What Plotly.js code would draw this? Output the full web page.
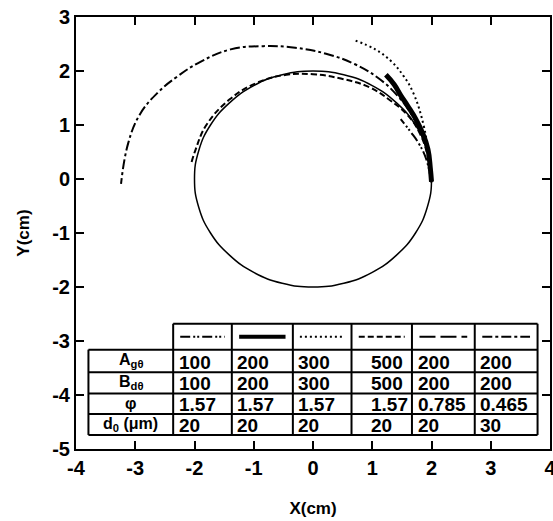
<!DOCTYPE html>
<html><head><meta charset="utf-8">
<script src="https://cdn.plot.ly/plotly-3.0.1.min.js"></script>
<style>html,body{margin:0;padding:0;background:#fff;}#chart{width:553px;height:521px;}</style>
</head><body><div id="chart"></div>
<script>
// ---- data ----
const circleX = [2,1.93,1.73,1.41,1.0,0.52,0,-0.52,-1.0,-1.41,-1.73,-1.93,-2,-1.93,-1.73,-1.41,-1.0,-0.52,0,0.52,1.0,1.41,1.73,1.93,2];
const circleY = [0,0.52,1.0,1.41,1.73,1.93,2,1.93,1.73,1.41,1.0,0.52,0,-0.52,-1.0,-1.41,-1.73,-1.93,-2,-1.93,-1.73,-1.41,-1.0,-0.52,0];

// column 1 : dash-dot-dot (A=100, B=100)
const c1X = [2.0,1.91,1.79,1.65,1.48];
const c1Y = [-0.06,0.37,0.65,0.87,1.11];
// column 2 : thick solid (A=200, B=200)
const c2X = [2.0,1.98,1.94,1.85,1.74,1.6,1.48,1.37,1.23];
const c2Y = [-0.05,0.2,0.55,0.85,1.1,1.35,1.55,1.75,1.93];
// column 3 : dotted (A=300, B=300)
const c3X = [2.0,1.96,1.87,1.69,1.52,1.32,1.05,0.72];
const c3Y = [-0.06,0.37,0.98,1.60,1.92,2.18,2.40,2.56];
// column 4 : dashed (A=500, B=500)
const c4X = [1.98,1.93,1.80,1.60,1.31,0.95,0.47,0.0,-0.45,-0.95,-1.40,-1.80,-1.98,-2.05];
const c4Y = [0.0,0.45,0.85,1.18,1.45,1.70,1.86,1.94,1.93,1.78,1.48,1.0,0.55,0.31];
// column 6 : dash-dot (phi=0.465, d0=30)
const c6X = [2.0,1.95,1.84,1.66,1.42,1.10,0.70,0.22,-0.30,-0.84,-1.39,-1.90,-2.30,-2.62,-2.92,-3.12,-3.24];
const c6Y = [-0.06,0.40,0.80,1.20,1.55,1.87,2.13,2.32,2.43,2.46,2.40,2.17,1.89,1.60,1.20,0.66,-0.09];

// table contents
const rowLabels = ['A<sub>gθ</sub>','B<sub>dθ</sub>','φ','d<sub>0</sub> (μm)'];
const rowAg = ['100','200','300','500','200','200'];
const rowBd = ['100','200','300','500','200','200'];
const rowPhi = ['1.57','1.57','1.57','1.57','0.785','0.465'];
const rowD0 = ['20','20','20','20','20','30'];
const tickVals = [-4,-3,-2,-1,0,1,2,3,4];
const yTickVals = [-5,-4,-3,-2,-1,0,1,2,3];

// ---- styles ----
const styles = [
  {dash:'10px,3px,2px,2px,2px,3px', width:2},
  {dash:'solid', width:5},
  {dash:'2px,3px', width:2},
  {dash:'6px,3px', width:2},
  {dash:'16px,5px', width:2},
  {dash:'10px,3px,3px,3px', width:2}
];
function tr(x,y,st){return {x:x,y:y,type:'scatter',mode:'lines',hoverinfo:'skip',
  line:{color:'#000',width:st.width,dash:st.dash,shape:'spline',smoothing:1.2}};}
const traces = [
  {x:circleX,y:circleY,type:'scatter',mode:'lines',line:{color:'#000',width:1.5,shape:'spline',smoothing:1.3}},
  tr(c1X,c1Y,styles[0]),
  tr(c2X,c2Y,styles[1]),
  tr(c3X,c3Y,styles[2]),
  tr(c4X,c4Y,styles[3]),
  tr(c6X,c6Y,styles[5])
];

// table geometry (data coordinates)
const colEdges = [-2.36,-1.37,-0.34,0.65,1.67,2.73,3.79];
const labelLeft = -3.79;
const rowEdges = [-2.68,-3.16,-3.58,-3.97,-4.35,-4.74];
const colPad = [0.06,0.06,0.06,0.30,0.06,0.06];
const shapes = [];
const L = {color:'#000',width:2};
shapes.push({type:'rect',xref:'x',yref:'y',x0:colEdges[0],x1:colEdges[6],y0:rowEdges[0],y1:rowEdges[5],fillcolor:'#fff',line:{width:0},layer:'above'});
shapes.push({type:'rect',xref:'x',yref:'y',x0:labelLeft,x1:colEdges[0],y0:rowEdges[1],y1:rowEdges[5],fillcolor:'#fff',line:{width:0},layer:'above'});
for(let r=0;r<rowEdges.length;r++){
  const x0 = r===0 ? colEdges[0] : labelLeft;
  shapes.push({type:'line',xref:'x',yref:'y',x0:x0,x1:colEdges[6],y0:rowEdges[r],y1:rowEdges[r],line:L,layer:'above'});
}
shapes.push({type:'line',xref:'x',yref:'y',x0:labelLeft,x1:labelLeft,y0:rowEdges[1],y1:rowEdges[5],line:L,layer:'above'});
for(let c=0;c<colEdges.length;c++){
  shapes.push({type:'line',xref:'x',yref:'y',x0:colEdges[c],x1:colEdges[c],y0:rowEdges[0],y1:rowEdges[5],line:L,layer:'above'});
}
const headY = (rowEdges[0]+rowEdges[1])/2;
for(let c=0;c<6;c++){
  const w = colEdges[c+1]-colEdges[c];
  shapes.push({type:'line',xref:'x',yref:'y',x0:colEdges[c]+0.12*w,x1:colEdges[c+1]-0.12*w,y0:headY,y1:headY,
    line:{color:'#000',width:styles[c].width===5?4:2,dash:styles[c].dash},layer:'above'});
}
const FAM = 'Liberation Sans, Arial, sans-serif';
const annotations = [];
const rows = [rowAg,rowBd,rowPhi,rowD0];
for(let r=0;r<4;r++){
  const yc = (rowEdges[r+1]+rowEdges[r+2])/2;
  annotations.push({xref:'x',yref:'y',x:(labelLeft+colEdges[0])/2,y:yc,text:'<b>'+rowLabels[r]+'</b>',showarrow:false,
    font:{family:FAM,size:16,color:'#000'},xanchor:'center',yanchor:'middle'});
  for(let c=0;c<6;c++){
    annotations.push({xref:'x',yref:'y',x:colEdges[c]+colPad[c],y:yc-0.02,text:'<b>'+rows[r][c]+'</b>',showarrow:false,
      font:{family:FAM,size:19,color:'#000'},xanchor:'left',yanchor:'middle'});
  }
}

const axisCommon = {showline:true,linecolor:'#000',linewidth:2,mirror:'ticks',ticks:'inside',ticklen:8,tickwidth:2,tickcolor:'#000',
  showgrid:false,zeroline:false,ticklabeloverflow:'allow',tickfont:{family:FAM,size:20,color:'#000'}};
const layout = {
  width:553,height:521,margin:{l:76,r:3,t:17,b:72},paper_bgcolor:'#fff',plot_bgcolor:'#fff',showlegend:false,
  xaxis:Object.assign({},axisCommon,{range:[-4,4],tickvals:tickVals,ticktext:tickVals.map(v=>'<b>'+v+'</b>'),
    title:{text:'<b>X(cm)</b>',font:{family:FAM,size:17,color:'#000'},standoff:24}}),
  yaxis:Object.assign({},axisCommon,{range:[-5,3],tickvals:yTickVals,ticktext:yTickVals.map(v=>'<b>'+v+'</b>'),
    title:{text:'<b>Y(cm)</b>',font:{family:FAM,size:17,color:'#000'},standoff:18}}),
  shapes:shapes,annotations:annotations
};
Plotly.newPlot('chart',traces,layout,{displayModeBar:false,staticPlot:true});
</script></body></html>
